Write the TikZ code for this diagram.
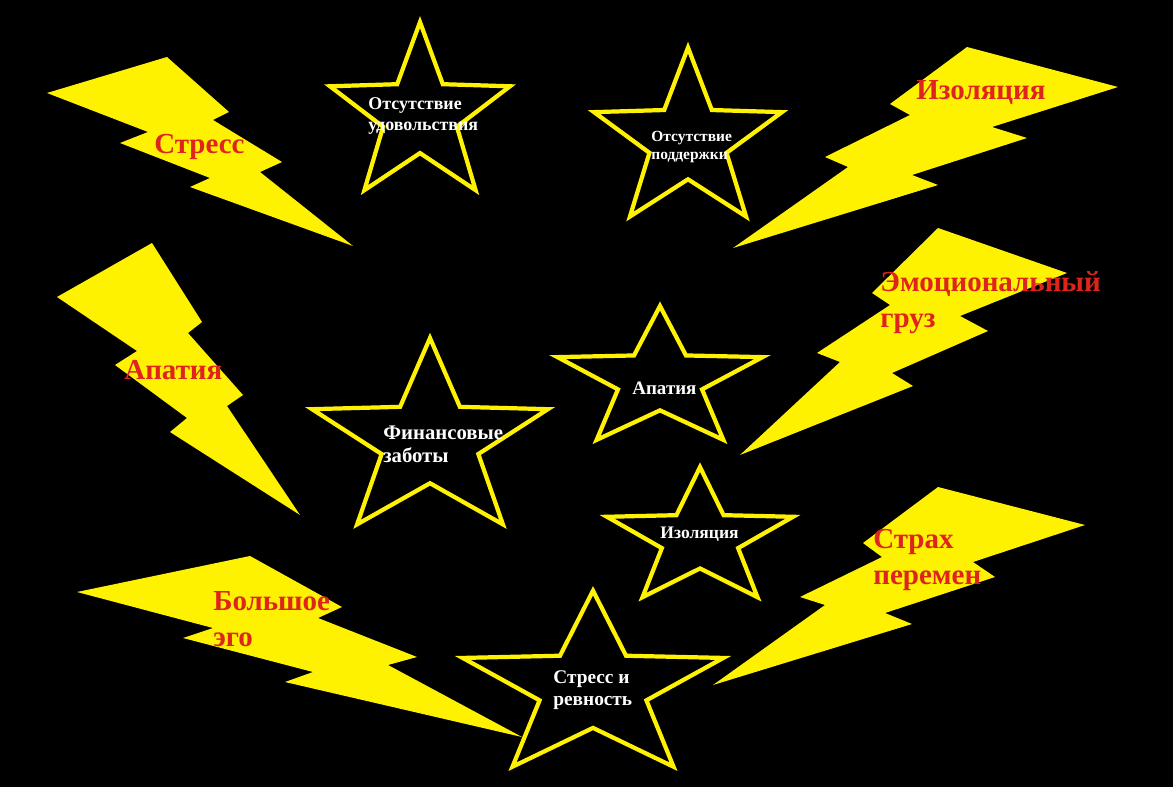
\documentclass[tikz,border=0pt]{standalone}
\usepackage{fontspec}
\setmainfont{Liberation Serif}
\definecolor{boltyellow}{RGB}{255,242,0}
\definecolor{boltred}{RGB}{222,36,28}
\newcommand{\lblsize}[2]{\fontsize{#1}{#2}\selectfont\bfseries}

\begin{document}
\begin{tikzpicture}[
  x=0.02cm, y=-0.02cm,
  bolt/.style={fill=boltyellow},
  starline/.style={draw=boltyellow, line width=2.4pt},
  boltlabel/.style={text=boltred, font=\lblsize{16.5}{20.5}, anchor=west, align=left, inner sep=0pt},
  starlabel/.style={text=white, anchor=west, align=left, inner sep=0pt},
  starshape/.pic={
    \draw[starline] (-90:1) -- (-54:0.41) -- (-18:1) -- (18:0.41) -- (54:1) -- (90:0.41)
      -- (126:1) -- (162:0.41) -- (198:1) -- (234:0.41) -- cycle;
  }
]
\fill[black] (0,0) rectangle (1173,787);
\useasboundingbox (0,0) rectangle (1173,787);

% lightning bolts
\path[bolt] (47,93) -- (167,57) -- (229,112) -- (213,120) -- (282,162) -- (260,172) -- (353,246)
  -- (190,187) -- (210,178) -- (120,143) -- (148,132) -- cycle;
\path[bolt] (967,47) -- (1118,87) -- (992,127) -- (1027,138) -- (912,175) -- (938,185) -- (733,248)
  -- (848,167) -- (825,157) -- (910,115) -- (890,104) -- cycle;
\path[bolt] (152,243) -- (202,322) -- (188,333) -- (243,395) -- (227,406) -- (300,515)
  -- (170,432) -- (187,418) -- (115,365) -- (137,351) -- (57,297) -- cycle;
\path[bolt] (938,228) -- (1067,273) -- (960,316) -- (988,331) -- (892,373) -- (913,386) -- (740,455)
  -- (840,362) -- (817,353) -- (890,305) -- (872,293) -- cycle;
\path[bolt] (77,592) -- (250,556) -- (342,607) -- (318,618) -- (417,657) -- (388,665) -- (522,737)
  -- (285,682) -- (313,672) -- (183,638) -- (213,628) -- cycle;
\path[bolt] (938,487) -- (1085,525) -- (973,562) -- (995,577) -- (885,613) -- (912,624) -- (713,685)
  -- (825,605) -- (800,597) -- (882,557) -- (863,543) -- cycle;

% stars
\pic[xscale=94.6, yscale=92.9] at (420,115) {starshape};
\pic[xscale=98.8, yscale=93.4] at (688,141) {starshape};
\pic[xscale=124, yscale=103] at (430,441) {starshape};
\pic[xscale=107.8, yscale=74] at (660,380) {starshape};
\pic[xscale=97.8, yscale=71.9] at (700,539) {starshape};
\pic[xscale=137, yscale=97.3] at (593,688) {starshape};

% labels in the bolts
\node[boltlabel] (stresslbl) at (154,147) {Стресс};
\node[boltlabel] (isollbl) at (916,93) {Изоляция};
\node[boltlabel] (apathlbl) at (124,370) {Апатия};
\node[boltlabel] (emolbl) at (880,303) {Эмоциональный\\груз};
\node[boltlabel] (egolbl) at (213,619) {Большое\\эго};
\node[boltlabel] (fearlbl) at (873,560) {Страх\\перемен};

% labels in the stars
\node[starlabel, font=\lblsize{10.2}{12}] (joylbl) at (368,116) {Отсутствие\\удовольствия};
\node[starlabel, font=\lblsize{8.8}{10.2}] (supportlbl) at (651,147) {Отсутствие\\поддержки};
\node[starlabel, font=\lblsize{11.8}{13}] (moneylbl) at (383,444) {Финансовые\\заботы};
\node[starlabel, font=\lblsize{10.8}{12}] (apathstar) at (632,388) {Апатия};
\node[starlabel, font=\lblsize{10}{12}] (isolstar) at (660,534) {Изоляция};
\node[starlabel, font=\lblsize{11}{12.5}] (jealouslbl) at (553,690) {Стресс и\\ревность};
\end{tikzpicture}
\end{document}
